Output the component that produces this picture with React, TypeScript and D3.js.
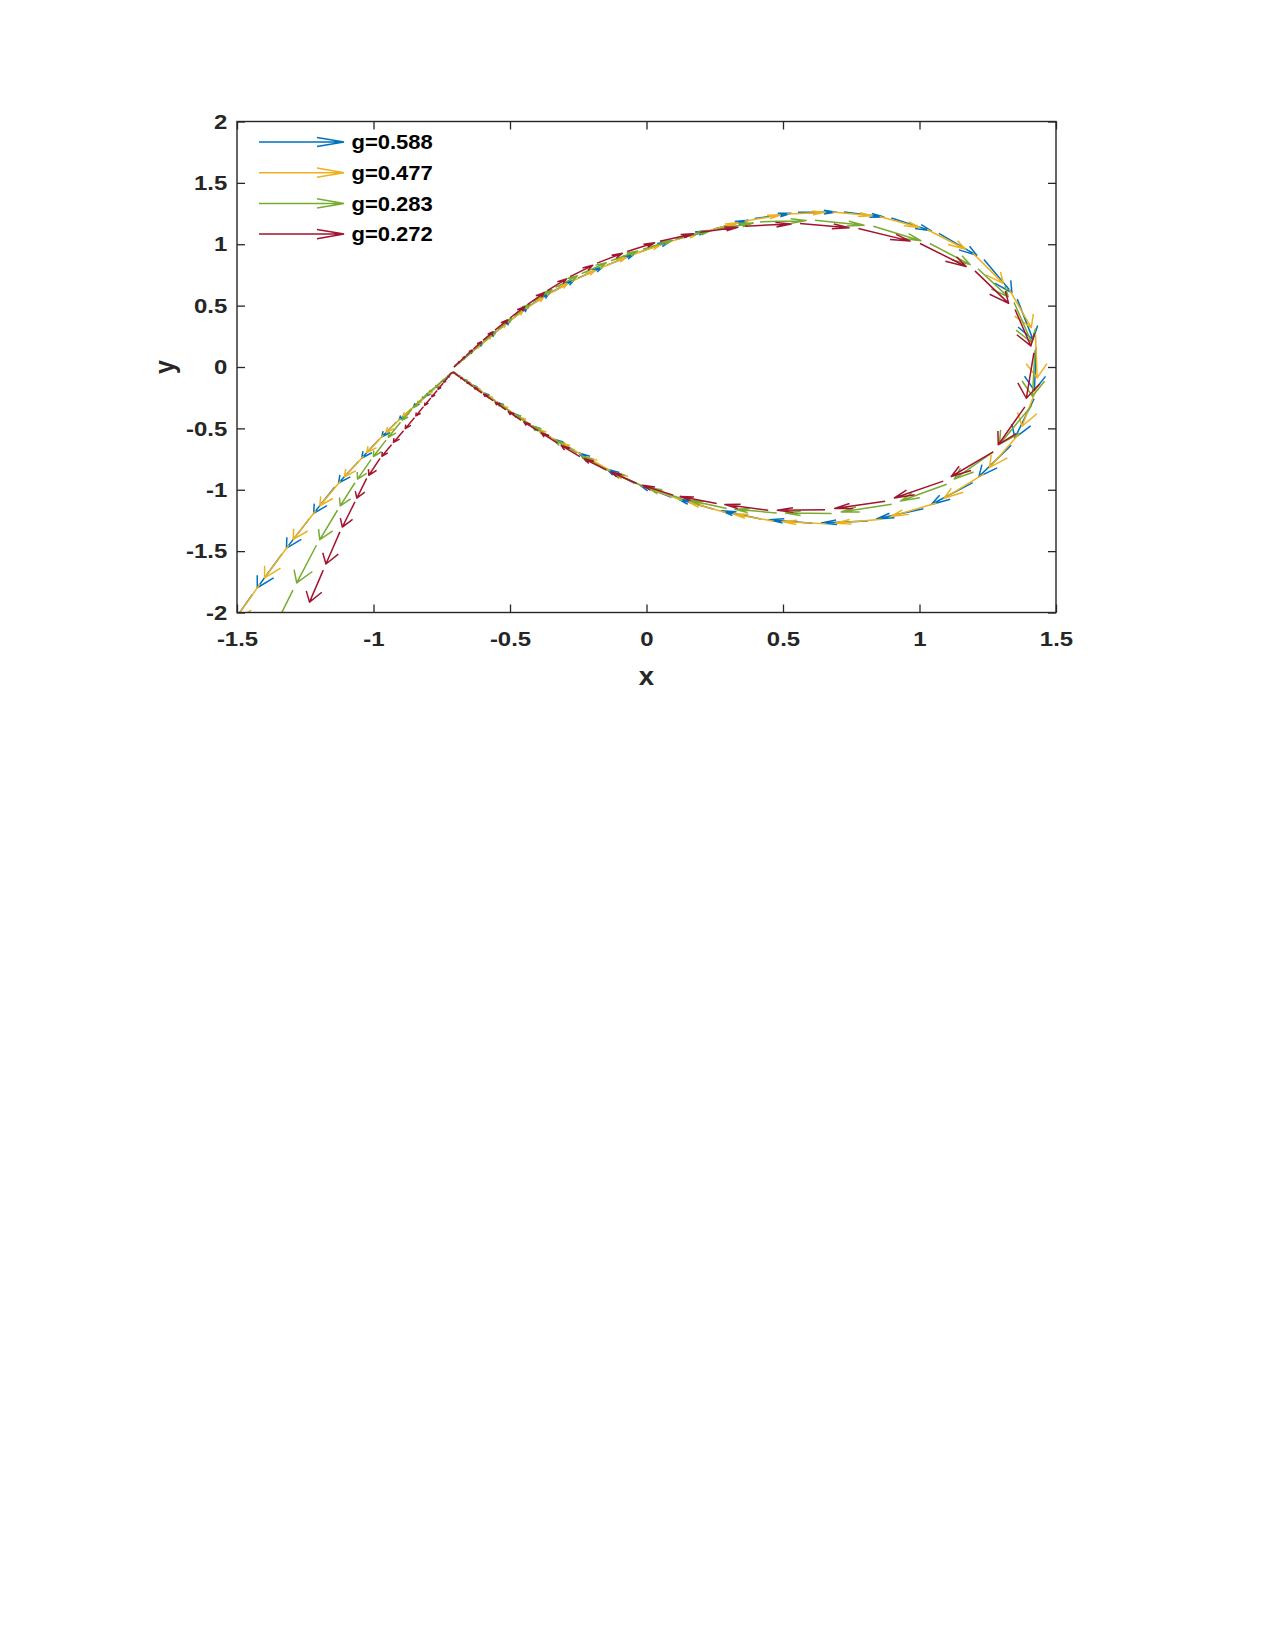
import React, { useEffect, useRef } from "react";
import * as d3 from "d3";

// trajectory samples (x, y), one quiver arrow per sample
const x588 = [-0.705, -0.697, -0.682, -0.663, -0.635, -0.598, -0.550, -0.493, -0.426, -0.345, -0.251, -0.144, -0.026, 0.106, 0.247, 0.396, 0.555, 0.723, 0.897, 1.071, 1.236, 1.358, 1.427, 1.420, 1.336, 1.195, 1.014, 0.810, 0.608, 0.419, 0.247, 0.092, -0.045, -0.163, -0.263, -0.354, -0.431, -0.498, -0.555, -0.603, -0.642, -0.673, -0.694, -0.707, -0.717, -0.731, -0.751, -0.778, -0.813, -0.860, -0.915, -0.980, -1.055, -1.142, -1.234, -1.335, -1.443, -1.559];
const y588 = [0.000, 0.016, 0.042, 0.079, 0.131, 0.199, 0.287, 0.389, 0.502, 0.613, 0.724, 0.830, 0.936, 1.038, 1.125, 1.209, 1.260, 1.262, 1.214, 1.089, 0.876, 0.553, 0.160, -0.259, -0.637, -0.942, -1.154, -1.254, -1.273, -1.239, -1.159, -1.061, -0.946, -0.811, -0.679, -0.571, -0.463, -0.363, -0.274, -0.200, -0.138, -0.094, -0.063, -0.040, -0.052, -0.085, -0.121, -0.177, -0.248, -0.338, -0.447, -0.591, -0.770, -0.978, -1.233, -1.522, -1.851, -2.218];

const x477 = [-0.705, -0.699, -0.686, -0.668, -0.642, -0.607, -0.562, -0.507, -0.443, -0.365, -0.275, -0.171, -0.056, 0.073, 0.212, 0.359, 0.515, 0.681, 0.854, 1.028, 1.195, 1.328, 1.425, 1.432, 1.365, 1.236, 1.062, 0.862, 0.659, 0.466, 0.290, 0.131, -0.011, -0.133, -0.238, -0.331, -0.412, -0.481, -0.541, -0.591, -0.632, -0.665, -0.689, -0.704, -0.714, -0.727, -0.746, -0.771, -0.804, -0.848, -0.901, -0.964, -1.036, -1.120, -1.211, -1.310, -1.416, -1.530];
const y477 = [0.000, 0.012, 0.036, 0.070, 0.118, 0.182, 0.265, 0.364, 0.474, 0.585, 0.696, 0.804, 0.910, 1.013, 1.103, 1.188, 1.247, 1.262, 1.226, 1.120, 0.929, 0.634, 0.260, -0.155, -0.545, -0.870, -1.108, -1.240, -1.278, -1.256, -1.186, -1.086, -0.975, -0.845, -0.712, -0.598, -0.490, -0.388, -0.296, -0.219, -0.154, -0.105, -0.071, -0.045, -0.050, -0.078, -0.112, -0.163, -0.230, -0.315, -0.420, -0.555, -0.725, -0.926, -1.169, -1.450, -1.769, -2.126];

const x283 = [-0.705, -0.696, -0.681, -0.661, -0.632, -0.593, -0.544, -0.485, -0.416, -0.333, -0.238, -0.130, -0.013, 0.115, 0.258, 0.416, 0.617, 0.831, 1.038, 1.214, 1.346, 1.423, 1.412, 1.270, 1.100, 0.898, 0.678, 0.477, 0.294, 0.130, -0.017, -0.145, -0.255, -0.350, -0.430, -0.498, -0.555, -0.603, -0.641, -0.672, -0.694, -0.707, -0.716, -0.725, -0.738, -0.755, -0.775, -0.799, -0.826, -0.859, -0.901, -0.954, -1.009, -1.068, -1.132, -1.209, -1.295, -1.383];
const y283 = [0.000, 0.018, 0.046, 0.085, 0.141, 0.213, 0.306, 0.414, 0.532, 0.648, 0.761, 0.866, 0.960, 1.045, 1.123, 1.182, 1.196, 1.147, 1.006, 0.801, 0.528, 0.137, -0.311, -0.692, -0.955, -1.118, -1.193, -1.189, -1.153, -1.073, -0.967, -0.841, -0.702, -0.576, -0.464, -0.365, -0.279, -0.205, -0.144, -0.097, -0.065, -0.040, -0.050, -0.073, -0.097, -0.128, -0.165, -0.209, -0.266, -0.344, -0.450, -0.596, -0.755, -0.943, -1.167, -1.452, -1.818, -2.209];

const x272 = [-0.705, -0.696, -0.681, -0.661, -0.634, -0.599, -0.555, -0.500, -0.436, -0.363, -0.280, -0.181, -0.071, 0.049, 0.196, 0.361, 0.562, 0.776, 1.002, 1.203, 1.350, 1.419, 1.386, 1.270, 1.087, 0.874, 0.654, 0.446, 0.257, 0.098, -0.036, -0.148, -0.244, -0.326, -0.397, -0.460, -0.515, -0.562, -0.603, -0.636, -0.663, -0.685, -0.700, -0.709, -0.717, -0.729, -0.745, -0.767, -0.790, -0.817, -0.850, -0.890, -0.934, -0.976, -1.025, -1.068, -1.123, -1.184, -1.244];
const y272 = [0.000, 0.020, 0.051, 0.092, 0.147, 0.217, 0.300, 0.399, 0.509, 0.623, 0.736, 0.846, 0.941, 1.025, 1.098, 1.147, 1.169, 1.128, 1.006, 0.783, 0.468, 0.115, -0.325, -0.692, -0.930, -1.093, -1.163, -1.167, -1.112, -1.044, -0.949, -0.837, -0.731, -0.621, -0.521, -0.433, -0.350, -0.275, -0.212, -0.159, -0.116, -0.081, -0.055, -0.043, -0.054, -0.090, -0.132, -0.191, -0.253, -0.323, -0.413, -0.519, -0.633, -0.745, -0.908, -1.099, -1.343, -1.655, -1.965];

const labels = ["g=0.588", "g=0.477", "g=0.283", "g=0.272"];
const colors = ["#0072BD", "#EDB120", "#77AC30", "#A2142F"];
const xTicks = [-1.5, -1, -0.5, 0, 0.5, 1, 1.5];
const yTicks = [-2, -1.5, -1, -0.5, 0, 0.5, 1, 1.5, 2];

const series = [
    { xs: x588, ys: y588 },
    { xs: x477, ys: y477 },
    { xs: x283, ys: y283 },
    { xs: x272, ys: y272 },
];

const FONT = "Arial, 'Liberation Sans', Helvetica, sans-serif";

export default function App() {
    const ref = useRef<SVGSVGElement>(null);

    useEffect(() => {
        const svg = d3.select(ref.current);
        svg.selectAll("*").remove();

        const margin = { left: 237, top: 121.5 };
        const w = 819;
        const h = 491;

        const x = d3.scaleLinear().domain([-1.5, 1.5]).range([0, w]);
        const y = d3.scaleLinear().domain([-2, 2]).range([h, 0]);

        const g = svg.append("g").attr("transform", `translate(${margin.left},${margin.top})`);

        g.append("clipPath").attr("id", "plot-clip")
            .append("rect").attr("width", w).attr("height", h);

        // quiver arrows, MATLAB style head computed in data units
        const frac = 0.84;
        const alpha = 0.33;
        const beta = 0.33;
        const plot = g.append("g").attr("clip-path", "url(#plot-clip)");

        series.forEach((s, k) => {
            let d = "";
            for (let i = 0; i < s.xs.length - 1; i++) {
                const x0 = s.xs[i], y0 = s.ys[i];
                const u = frac * (s.xs[i + 1] - x0);
                const v = frac * (s.ys[i + 1] - y0);
                const tx = x0 + u, ty = y0 + v;
                const b1x = tx - alpha * (u + beta * v), b1y = ty - alpha * (v - beta * u);
                const b2x = tx - alpha * (u - beta * v), b2y = ty - alpha * (v + beta * u);
                d += `M${x(x0)},${y(y0)}L${x(tx)},${y(ty)}`;
                d += `M${x(b1x)},${y(b1y)}L${x(tx)},${y(ty)}L${x(b2x)},${y(b2y)}`;
            }
            plot.append("path")
                .attr("d", d)
                .attr("fill", "none")
                .attr("stroke", colors[k])
                .attr("stroke-width", 1.5)
                .attr("stroke-linejoin", "round");
        });

        // axes (labels slightly widened like the original render)
        const xAxis = d3.axisBottom(x).tickValues(xTicks).tickSize(-8).tickPadding(19).tickFormat(d => String(d));
        const yAxis = d3.axisLeft(y).tickValues(yTicks).tickSize(-8).tickPadding(8.5).tickFormat(d => String(d));

        const gx = g.append("g").attr("transform", `translate(0,${h})`).call(xAxis);
        const gy = g.append("g").call(yAxis);
        g.append("g").call(d3.axisTop(x).tickValues(xTicks).tickSize(-8).tickFormat(() => ""));
        g.append("g").attr("transform", `translate(${w},0)`).call(d3.axisRight(y).tickValues(yTicks).tickSize(-8).tickFormat(() => ""));

        g.selectAll(".domain").remove();
        g.selectAll(".tick line").attr("stroke", "#262626").attr("stroke-width", 1.3);
        [gx, gy].forEach(a => a.selectAll("text")
            .attr("font-family", FONT)
            .attr("font-size", 21)
            .attr("font-weight", "bold")
            .attr("fill", "#262626")
            .attr("transform", "scale(1.14,1)"));

        g.append("rect")
            .attr("width", w)
            .attr("height", h)
            .attr("fill", "none")
            .attr("stroke", "#262626")
            .attr("stroke-width", 1.4);

        // axis labels
        g.append("text")
            .attr("transform", `translate(${w / 2},${h + 72}) scale(1.1,1)`)
            .attr("text-anchor", "middle")
            .attr("font-family", FONT)
            .attr("font-size", 25)
            .attr("font-weight", "bold")
            .attr("fill", "#262626")
            .text("x");

        g.append("text")
            .attr("transform", `translate(${-63}, ${h / 2}) rotate(-90) scale(1,1.1)`)
            .attr("text-anchor", "middle")
            .attr("font-family", FONT)
            .attr("font-size", 25)
            .attr("font-weight", "bold")
            .attr("fill", "#262626")
            .text("y");

        // legend
        const legend = svg.append("g");
        labels.forEach((lab, k) => {
            const cy = 142 + k * 30.7;
            legend.append("path")
                .attr("d", `M259,${cy}L344,${cy}M317,${cy - 4.6}L344,${cy}L317,${cy + 4.6}`)
                .attr("fill", "none")
                .attr("stroke", colors[k])
                .attr("stroke-width", 1.5);
            legend.append("text")
                .attr("transform", `translate(351.5,${cy + 7.2}) scale(1.1,1)`)
                .attr("font-family", FONT)
                .attr("font-size", 20)
                .attr("font-weight", "bold")
                .attr("fill", "#000")
                .text(lab);
        });
    }, []);

    return (
        <svg
            ref={ref}
            width={1275}
            height={1650}
            style={{ position: "absolute", left: 0, top: 0, background: "#fff" }}
        />
    );
}
